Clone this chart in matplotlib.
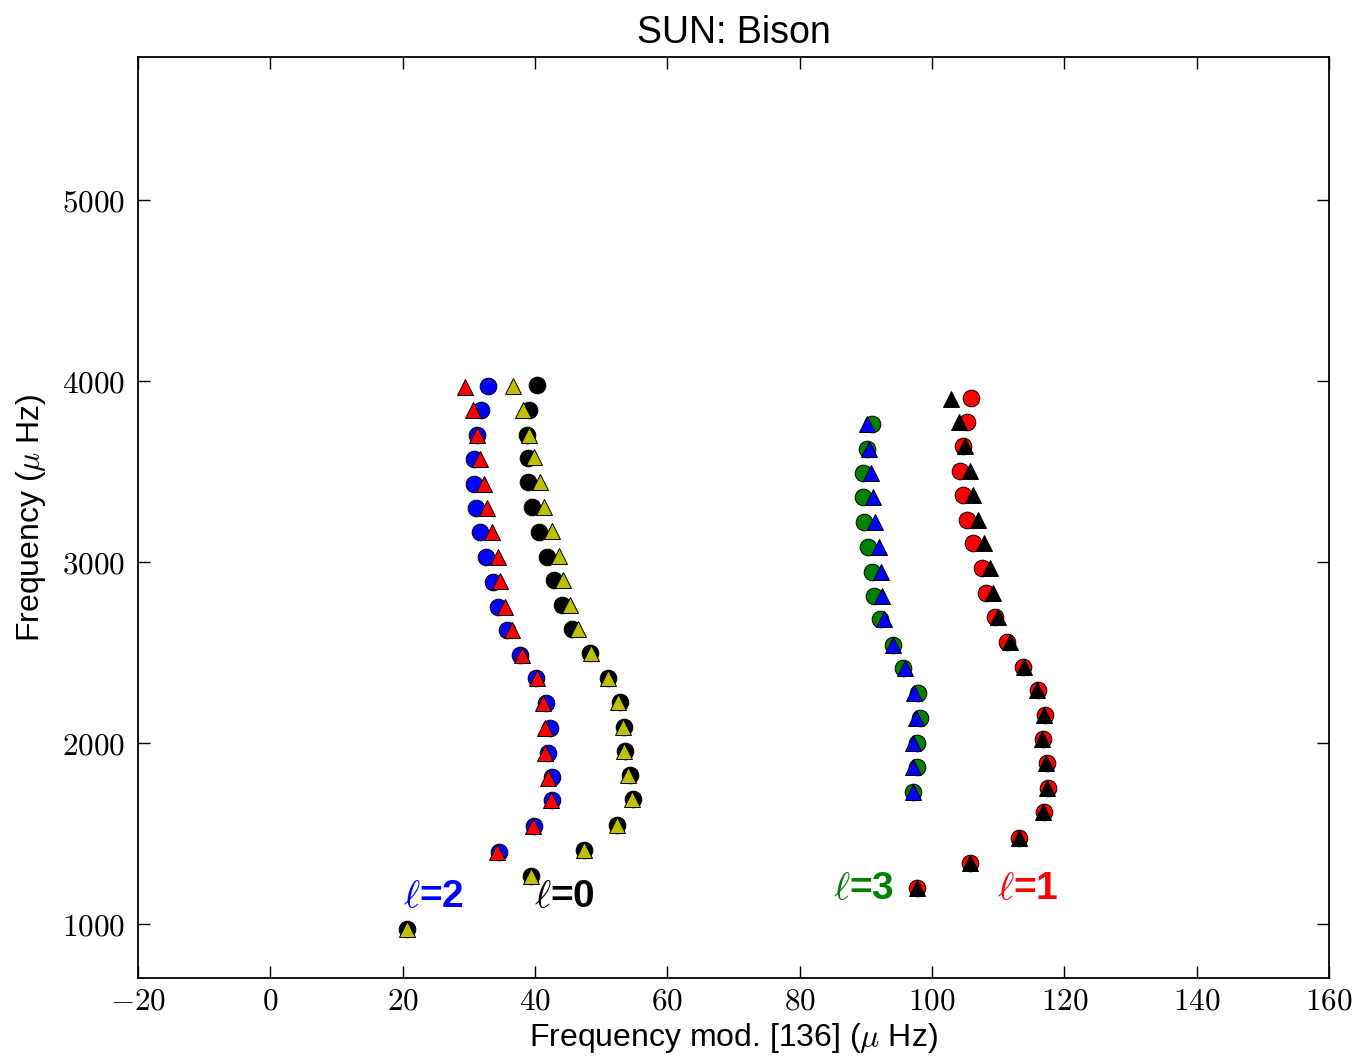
import matplotlib
matplotlib.use("Agg")
import matplotlib.pyplot as plt
from matplotlib.ticker import FuncFormatter, MultipleLocator

plt.rcParams['font.family'] = ['Liberation Sans', 'DejaVu Sans']
plt.rcParams['mathtext.fontset'] = 'cm'

# ---- data (frequency mod 136 on x, frequency on y) ----
# l = 0 : black circles (observed) and yellow triangles (model)
l0_obs_x = [40.3, 39.1, 38.8, 38.9, 38.9, 39.5, 40.6, 41.8, 42.9, 44.1, 45.6, 48.3,
            51.0, 52.8, 53.5, 53.6, 54.4, 54.8, 52.4, 47.4, 39.4, 20.7]
l0_obs_y = [3978, 3840, 3702, 3577, 3440, 3304, 3167, 3030, 2899, 2763, 2630, 2497,
            2361, 2227, 2090, 1955, 1823, 1690, 1550, 1410, 1264, 975]
l0_mod_x = [36.7, 38.2, 39.1, 39.8, 40.8, 41.4, 42.6, 43.6, 44.2, 45.3, 46.5, 48.5,
            51.0, 52.5, 53.3, 53.5, 54.1, 54.7, 52.4, 47.4, 39.4, 20.7]
l0_mod_y = [3975, 3839, 3702, 3578, 3442, 3306, 3169, 3032, 2900, 2764, 2631, 2497,
            2361, 2227, 2090, 1955, 1823, 1690, 1550, 1410, 1264, 975]

# l = 1 : red circles (observed) and black triangles (model)
l1_obs_x = [105.9, 105.3, 104.7, 104.2, 104.7, 105.3, 106.2, 107.6, 108.2, 109.5, 111.3,
            113.8, 116.0, 117.1, 116.8, 117.4, 117.5, 116.9, 113.2, 105.7, 97.7]
l1_obs_y = [3906, 3774, 3641, 3503, 3370, 3232, 3105, 2967, 2829, 2696, 2558,
            2422, 2295, 2157, 2020, 1888, 1753, 1617, 1475, 1337, 1199]
l1_mod_x = [102.9, 104.1, 105.0, 105.7, 106.2, 107.0, 107.9, 108.8, 109.2, 110.0, 111.8,
            113.9, 115.9, 116.9, 116.6, 117.2, 117.4, 116.8, 113.2, 105.7, 97.7]
l1_mod_y = [3903, 3773, 3641, 3504, 3372, 3234, 3107, 2968, 2830, 2697, 2559,
            2422, 2295, 2157, 2020, 1888, 1753, 1617, 1475, 1337, 1199]

# l = 2 : blue circles (observed) and red triangles (model)
l2_obs_x = [32.9, 31.8, 31.2, 30.8, 30.8, 31.1, 31.7, 32.6, 33.7, 34.4, 35.8, 37.7,
            40.2, 41.7, 42.3, 42.0, 42.6, 42.6, 39.8, 34.6]
l2_obs_y = [3972, 3840, 3702, 3569, 3431, 3298, 3166, 3028, 2892, 2753, 2624, 2486,
            2359, 2219, 2083, 1946, 1810, 1683, 1541, 1398]
l2_mod_x = [29.4, 30.6, 31.2, 31.7, 32.3, 32.7, 33.5, 34.4, 34.7, 35.5, 36.5, 38.0,
            40.3, 41.2, 41.5, 41.5, 42.0, 42.4, 39.7, 34.3]
l2_mod_y = [3969, 3839, 3702, 3570, 3432, 3299, 3168, 3030, 2893, 2754, 2625, 2486,
            2359, 2219, 2082, 1945, 1809, 1683, 1541, 1398]

# l = 3 : green circles (observed) and blue triangles (model)
l3_obs_x = [90.9, 90.2, 89.6, 89.6, 89.7, 90.3, 90.9, 91.2, 92.1, 94.1, 95.6, 97.9,
            98.2, 97.7, 97.7, 97.1]
l3_obs_y = [3762, 3624, 3492, 3359, 3221, 3083, 2945, 2812, 2685, 2541, 2414, 2276,
            2138, 2000, 1867, 1729]
l3_mod_x = [90.2, 90.5, 90.8, 91.1, 91.4, 92.0, 92.3, 92.4, 92.7, 94.1, 95.9, 97.3,
            97.6, 97.1, 97.1, 97.1]
l3_mod_y = [3761, 3624, 3493, 3360, 3223, 3085, 2946, 2813, 2686, 2541, 2414, 2276,
            2137, 2000, 1866, 1729]

series = [
    (l0_obs_x, l0_obs_y, 'o', 'k'), (l0_mod_x, l0_mod_y, '^', (0.75, 0.75, 0)),
    (l1_obs_x, l1_obs_y, 'o', 'r'), (l1_mod_x, l1_mod_y, '^', 'k'),
    (l2_obs_x, l2_obs_y, 'o', 'b'), (l2_mod_x, l2_mod_y, '^', 'r'),
    (l3_obs_x, l3_obs_y, 'o', (0, 0.5, 0)), (l3_mod_x, l3_mod_y, '^', 'b'),
]

mode_labels = ['2', '0', '3', '1']
label_x = [24.6, 44.5, 89.6, 114.4]
label_y = [1150, 1150, 1192, 1192]
label_colors = ['b', 'k', (0, 0.5, 0), 'r']

fig = plt.figure(figsize=(13.53, 10.58), dpi=100)
ax = fig.add_axes([0.10200, 0.07561, 0.88027, 0.87051])

for x, y, m, c in series:
    ax.plot(x, y, linestyle='none', marker=m, markersize=12, markerfacecolor=c,
            markeredgecolor='k', markeredgewidth=0.7)

for lab, tx, ty, c in zip(mode_labels, label_x, label_y, label_colors):
    ax.text(tx, ty, r'$\ell$=' + lab, color=c, fontsize=28, fontweight='bold',
            ha='center', va='center')

ax.set_xlim(-20, 160)
ax.set_ylim(702, 5790)
ax.xaxis.set_major_locator(MultipleLocator(20))
ax.yaxis.set_major_locator(MultipleLocator(1000))
fmt = FuncFormatter(lambda v, p: r'$%d$' % int(round(v)))
ax.xaxis.set_major_formatter(fmt)
ax.yaxis.set_major_formatter(fmt)
ax.tick_params(direction='in', length=8.5, width=1, top=True, right=True,
               labelsize=22.5)
ax.tick_params(axis='x', pad=6)
ax.tick_params(axis='y', pad=9)
for s in ax.spines.values():
    s.set_linewidth(1.3)

ax.set_title('SUN: Bison', fontsize=27, pad=10)
ax.set_xlabel(r'Frequency mod. [136] ($\mu$ Hz)', fontsize=23, labelpad=3)
ax.set_ylabel(r'Frequency ($\mu$ Hz)', fontsize=23, labelpad=10)

fig.savefig('out.png', dpi=100)
